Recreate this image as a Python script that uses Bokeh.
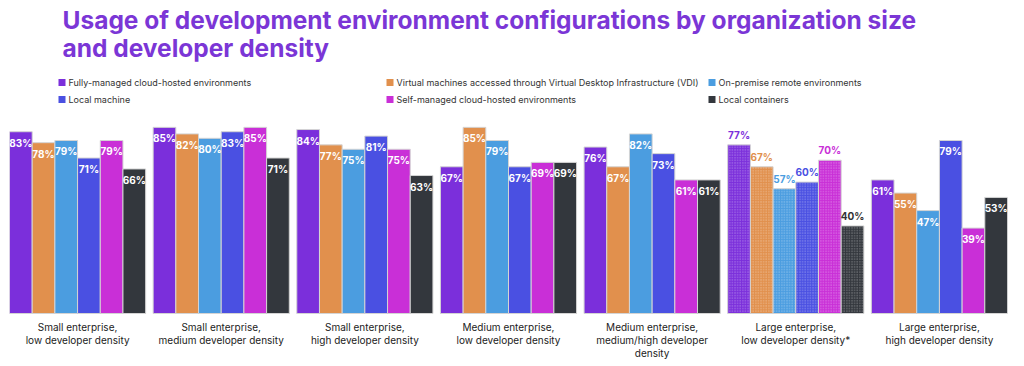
from bokeh.plotting import figure
from bokeh.models import Range1d, ColumnDataSource
from bokeh.core.properties import value
from bokeh.embed import file_html
from bokeh.resources import INLINE

# ---------------- data ----------------
groups = [
    "Small enterprise,\nlow developer density",
    "Small enterprise,\nmedium developer density",
    "Small enterprise,\nhigh developer density",
    "Medium enterprise,\nlow developer density",
    "Medium enterprise,\nmedium/high developer\ndensity",
    "Large enterprise,\nlow developer density*",
    "Large enterprise,\nhigh developer density",
]
series = [
    "Fully-managed cloud-hosted environments",
    "Virtual machines accessed through Virtual Desktop Infrastructure (VDI)",
    "On-premise remote environments",
    "Local machine",
    "Self-managed cloud-hosted environments",
    "Local containers",
]
fully_managed = [83, 85, 84, 67, 76, 77, 61]
vdi           = [78, 82, 77, 85, 67, 67, 55]
on_premise    = [79, 80, 75, 79, 82, 57, 47]
local_machine = [71, 83, 81, 67, 73, 60, 79]
self_managed  = [79, 85, 75, 69, 61, 70, 39]
local_cont    = [66, 71, 63, 69, 61, 40, 53]
values_by_series = [fully_managed, vdi, on_premise, local_machine, self_managed, local_cont]
hatched_group = "Large enterprise,\nlow developer density*"

title_lines = "Usage of development environment configurations by organization size\nand developer density"

# ---------------- styles ----------------
colors = ["#7B2FDB", "#E1904D", "#4B9DE0", "#4A50E2", "#C92FD7", "#33373D"]
above_label_colors = ["#7B2FDB", "#E1904D", "#4B9DE0", "#4A50E2", "#C92FD7", "#333333"]
FONT = "Inter"
W, H = 1016, 362
BASE_Y = 313          # canvas y of the 0% baseline
PX_PER_PCT = 2.19
LEFT, RIGHT = 9, 1007  # canvas x extent of the bars
GAP = 0.33            # gap between groups, in bar widths

# ---------------- figure ----------------
n_s = len(series)
pitch = n_s + GAP
x_total = len(groups) * n_s + (len(groups) - 1) * GAP
x_range = Range1d(0, x_total)
y_range = Range1d(-(H - BASE_Y) / PX_PER_PCT, BASE_Y / PX_PER_PCT)

p = figure(width=W, height=H, x_range=x_range, y_range=y_range,
           output_backend="svg", toolbar_location=None,
           x_axis_location=None, y_axis_location=None,
           min_border_left=LEFT, min_border_right=W - RIGHT,
           min_border_top=0, min_border_bottom=0)
p.outline_line_color = None
p.grid.visible = False
p.background_fill_color = "white"
p.border_fill_color = "white"

p.extra_x_ranges = {"px": Range1d(LEFT, RIGHT)}
p.extra_y_ranges = {"px": Range1d(H, 0)}

# bars
rows = {"x": [], "top": [], "color": [], "label": [], "lcolor": [], "hatched": []}
for gi, g in enumerate(groups):
    for si, s in enumerate(series):
        v = values_by_series[si][gi]
        rows["x"].append(gi * pitch + si + 0.5)
        rows["top"].append(v)
        rows["color"].append(colors[si])
        rows["label"].append(f"{v}%")
        rows["lcolor"].append(above_label_colors[si])
        rows["hatched"].append(g == hatched_group)

def subset(flag):
    idx = [i for i, h in enumerate(rows["hatched"]) if h == flag]
    return ColumnDataSource({k: [rows[k][i] for i in idx] for k in rows})

src_plain = subset(False)
src_hatch = subset(True)

p.vbar(x="x", top="top", width=1.0, bottom=0, source=src_plain,
       fill_color="color", line_color="#d4d4d4", line_width=1)
p.vbar(x="x", top="top", width=1.0, bottom=0, source=src_hatch,
       fill_color="color", line_color="#d4d4d4", line_width=1,
       hatch_pattern="dot", hatch_color="white", hatch_alpha=0.45,
       hatch_scale=2.6, hatch_weight=1.0)

# value labels
p.text(x="x", y="top", text="label", source=src_plain,
       text_color="white", text_font=value(FONT), text_font_style="bold",
       text_font_size="10px", text_align="center", text_baseline="middle",
       y_offset=11)
p.text(x="x", y="top", text="label", source=src_hatch,
       text_color="lcolor", text_font=value(FONT), text_font_style="bold",
       text_font_size="10px", text_align="center", text_baseline="middle",
       y_offset=-10)

# category labels under each group
gx = [gi * pitch + n_s / 2 for gi in range(len(groups))]
p.text(x=gx, y=[320] * len(groups), text=groups, y_range_name="px",
       text_color="#222222", text_font=value(FONT), text_font_size="10px",
       text_align="center", text_baseline="top", text_line_height=1.1)

# title
p.text(x=[62], y=[4], text=[title_lines], x_range_name="px", y_range_name="px",
       text_color="#7B36D6", text_font=value(FONT), text_font_style="bold",
       text_font_size="24.5px", text_align="left", text_baseline="top",
       text_line_height=0.95)

# legend (row-major, three columns)
leg_x = [58, 386, 708]
leg_y = [82, 99]
lx, ly, lc, tx, tt = [], [], [], [], []
for i, s in enumerate(series):
    r, c = divmod(i, 3)
    lx.append(leg_x[c] + 3.5)
    ly.append(leg_y[r])
    lc.append(colors[i])
    tx.append(leg_x[c] + 10)
    tt.append(s)
p.scatter(x=lx, y=ly, marker="square", size=7, fill_color=lc, line_color=None,
          x_range_name="px", y_range_name="px")
p.text(x=tx, y=ly, text=tt, x_range_name="px", y_range_name="px",
       text_color="#333333", text_font=value(FONT), text_font_size="9px",
       text_align="left", text_baseline="middle")

open("out.html", "w").write(file_html(p, INLINE))
